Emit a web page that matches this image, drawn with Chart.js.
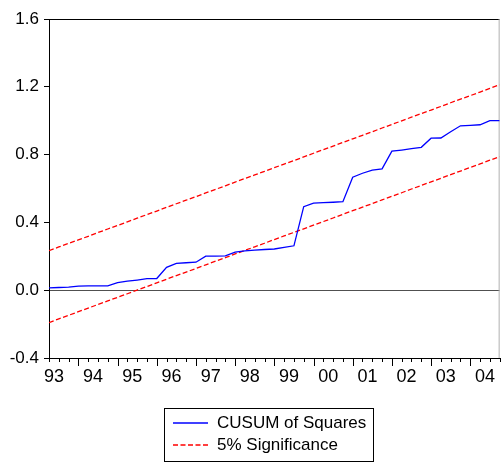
<!DOCTYPE html>
<html>
<head>
<meta charset="utf-8">
<script src="https://cdn.jsdelivr.net/npm/chart.js@4/dist/chart.umd.min.js"></script>
<style>
  html, body { margin: 0; padding: 0; background: #fff; }
  #wrap { width: 503px; height: 463px; }
</style>
</head>
<body>
<div id="wrap"><canvas id="cusum" width="503" height="463"></canvas></div>
<script>
// quarterly sample, 1993Q2 .. 2004Q4
const quarters = [
  "1993Q2", "1993Q3", "1993Q4",
  "1994Q1", "1994Q2", "1994Q3", "1994Q4",
  "1995Q1", "1995Q2", "1995Q3", "1995Q4",
  "1996Q1", "1996Q2", "1996Q3", "1996Q4",
  "1997Q1", "1997Q2", "1997Q3", "1997Q4",
  "1998Q1", "1998Q2", "1998Q3", "1998Q4",
  "1999Q1", "1999Q2", "1999Q3", "1999Q4",
  "2000Q1", "2000Q2", "2000Q3", "2000Q4",
  "2001Q1", "2001Q2", "2001Q3", "2001Q4",
  "2002Q1", "2002Q2", "2002Q3", "2002Q4",
  "2003Q1", "2003Q2", "2003Q3", "2003Q4",
  "2004Q1", "2004Q2", "2004Q3", "2004Q4"
];

const cusumSq = [
  0.014, 0.016, 0.018,
  0.024, 0.025, 0.025, 0.026,
  0.045, 0.053, 0.060, 0.068,
  0.069, 0.135, 0.158, 0.162,
  0.165, 0.201, 0.201, 0.203,
  0.225, 0.232, 0.237, 0.240,
  0.243, 0.253, 0.262, 0.493,
  0.514, 0.517, 0.519, 0.522,
  0.667, 0.690, 0.709, 0.716,
  0.820, 0.827, 0.835, 0.843,
  0.897, 0.898, 0.935, 0.970,
  0.973, 0.976, 1.000, 1.000
];

const upper5 = [
  0.233, 0.255, 0.276,
  0.297, 0.318, 0.340, 0.361,
  0.382, 0.403, 0.425, 0.446,
  0.467, 0.489, 0.510, 0.531,
  0.552, 0.574, 0.595, 0.616,
  0.638, 0.659, 0.680, 0.701,
  0.723, 0.744, 0.765, 0.786,
  0.808, 0.829, 0.850, 0.872,
  0.893, 0.914, 0.935, 0.957,
  0.978, 0.999, 1.021, 1.042,
  1.063, 1.084, 1.106, 1.127,
  1.148, 1.169, 1.191, 1.212
];

const lower5 = [
  -0.191, -0.169, -0.148,
  -0.127, -0.106, -0.084, -0.063,
  -0.042, -0.021, 0.001, 0.022,
  0.043, 0.065, 0.086, 0.107,
  0.128, 0.150, 0.171, 0.192,
  0.214, 0.235, 0.256, 0.277,
  0.299, 0.320, 0.341, 0.362,
  0.384, 0.405, 0.426, 0.448,
  0.469, 0.490, 0.511, 0.533,
  0.554, 0.575, 0.597, 0.618,
  0.639, 0.660, 0.682, 0.703,
  0.724, 0.745, 0.767, 0.788
];

const yearLabels = ["93", "94", "95", "96", "97", "98", "99", "00", "01", "02", "03", "04"];

const FONT = "'Liberation Sans', Arial, sans-serif";
Chart.defaults.font.family = FONT;
Chart.defaults.color = "#000";

const toPoints = (vals) => vals.map((v, i) => ({ x: i, y: v }));

// frame, zero line is done by the y grid; this adds top/right edges
const frame = {
  id: "frame",
  beforeDatasetsDraw(chart) {
    const { ctx, chartArea: a } = chart;
    ctx.save();
    ctx.lineWidth = 1;
    ctx.strokeStyle = "#000";
    ctx.beginPath();
    ctx.moveTo(a.left, a.top + 0.5);
    ctx.lineTo(a.right, a.top + 0.5);
    ctx.stroke();
    ctx.strokeStyle = "#b0b0b0";
    ctx.beginPath();
    ctx.moveTo(a.right - 0.5, a.top);
    ctx.lineTo(a.right - 0.5, a.bottom);
    ctx.stroke();
    ctx.restore();
  }
};

// quarterly tick marks under the date axis, longer at Q1
const quarterTicks = {
  id: "quarterTicks",
  afterDraw(chart) {
    const { ctx, chartArea: a } = chart;
    const xs = chart.scales.x;
    ctx.save();
    ctx.strokeStyle = "#000";
    ctx.lineWidth = 1;
    ctx.beginPath();
    quarters.forEach((q, i) => {
      const px = Math.round(xs.getPixelForValue(i)) + 0.5;
      const len = q.endsWith("Q1") ? 8 : 4;
      ctx.moveTo(px, a.bottom);
      ctx.lineTo(px, a.bottom + len);
    });
    ctx.stroke();
    ctx.restore();
  }
};

// boxed legend under the axis, one row per distinct label
const legendBox = {
  id: "legendBox",
  afterDraw(chart, args, opts) {
    const { ctx } = chart;
    const sets = chart.data.datasets.filter(
      (d, i, arr) => arr.findIndex((o) => o.label === d.label) === i
    );
    ctx.save();
    ctx.font = "17px " + FONT;
    const textW = Math.max(...sets.map((d) => ctx.measureText(d.label).width));
    const x = opts.left, y = opts.top, rowH = 22, sample = 35;
    const w = 9 + sample + 9 + textW + 7;
    const h = sets.length * rowH + 9;
    ctx.strokeStyle = "#000";
    ctx.lineWidth = 1;
    ctx.strokeRect(x + 0.5, y + 0.5, Math.round(w), h);
    sets.forEach((d, k) => {
      const cy = y + 15 + k * rowH;
      ctx.save();
      ctx.strokeStyle = d.borderColor;
      ctx.lineWidth = d.borderWidth;
      ctx.setLineDash(d.borderDash || []);
      ctx.beginPath();
      ctx.moveTo(x + 9, cy);
      ctx.lineTo(x + 9 + sample, cy);
      ctx.stroke();
      ctx.restore();
      ctx.fillStyle = "#000";
      ctx.textBaseline = "middle";
      ctx.textAlign = "left";
      ctx.fillText(d.label, x + 9 + sample + 9, cy);
    });
    ctx.restore();
  }
};

new Chart(document.getElementById("cusum"), {
  type: "line",
  data: {
    labels: quarters,
    datasets: [
      {
        label: "CUSUM of Squares",
        data: toPoints(cusumSq),
        borderColor: "#0000ff",
        borderWidth: 1.3,
        pointRadius: 0,
        tension: 0,
        fill: false,
      },
      {
        label: "5% Significance",
        data: toPoints(upper5),
        borderColor: "#ff0000",
        borderWidth: 1.3,
        borderDash: [5, 2.5],
        pointRadius: 0,
        tension: 0,
        fill: false,
      },
      {
        label: "5% Significance",
        data: toPoints(lower5),
        borderColor: "#ff0000",
        borderWidth: 1.3,
        borderDash: [5, 2.5],
        pointRadius: 0,
        tension: 0,
        fill: false,
      },
    ],
  },
  options: {
    responsive: false,
    animation: false,
    layout: {
      padding: { top: 19, right: 1, left: 0, bottom: 0 },
    },
    plugins: {
      legend: { display: false },
      tooltip: { enabled: false },
      legendBox: { left: 164, top: 408 },
    },
    scales: {
      x: {
        type: "linear",
        min: 0,
        max: quarters.length - 1,
        bounds: "data",
        afterBuildTicks: (scale) => {
          // one label per year, centred on the middle of the year
          scale.ticks = yearLabels.map((_, k) => ({ value: k * 4 + 0.5 }));
        },
        afterFit: (scale) => {
          scale.height = 105;
        },
        ticks: {
          autoSkip: false,
          maxRotation: 0,
          padding: 8,
          font: { size: 18 },
          callback: (value, index) => yearLabels[index],
        },
        grid: { display: true, drawOnChartArea: false, drawTicks: false },
        border: { display: true, color: "#000", width: 1 },
      },
      y: {
        min: -0.4,
        max: 1.6,
        afterFit: (scale) => {
          scale.width = 49;
        },
        ticks: {
          stepSize: 0.4,
          padding: 5,
          font: { size: 17 },
          callback: (value) => Number(value).toFixed(1),
        },
        grid: {
          drawOnChartArea: true,
          color: (ctx) => (ctx.tick && Math.abs(ctx.tick.value) < 1e-9 ? "#505050" : "rgba(0,0,0,0)"),
          tickColor: "#000",
          tickLength: 5,
          lineWidth: 1,
        },
        border: { display: true, color: "#000", width: 1 },
      },
    },
  },
  plugins: [frame, quarterTicks, legendBox],
});
</script>
</body>
</html>
